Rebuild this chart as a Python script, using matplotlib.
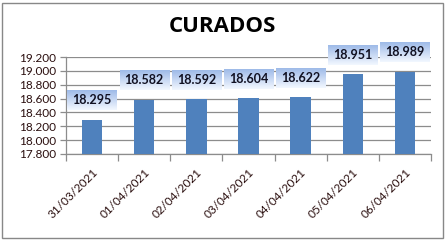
import matplotlib
matplotlib.use("Agg")
import matplotlib.pyplot as plt
import numpy as np
from matplotlib.patches import Rectangle

categories = ["31/03/2021", "01/04/2021", "02/04/2021", "03/04/2021",
              "04/04/2021", "05/04/2021", "06/04/2021"]
values = [18.295, 18.582, 18.592, 18.604, 18.622, 18.951, 18.989]
yticks = [17.8, 18.0, 18.2, 18.4, 18.6, 18.8, 19.0, 19.2]
title = "CURADOS"

def fmt(v):
    return f"{v:.3f}"

W, H = 447, 241
fig = plt.figure(figsize=(W / 100, H / 100), dpi=100)
fig.patch.set_facecolor("white")
# outer border
fig.add_artist(Rectangle((2 / W, 3 / H), 441 / W, 235 / H, transform=fig.transFigure,
                         fill=False, edgecolor="#888888", linewidth=1))

ax = fig.add_axes([66 / W, 1 - 154 / H, (431 - 66) / W, (154 - 57) / H])
x = np.arange(len(categories))
ax.bar(x, values, width=0.39, color="#4f81bd", zorder=3)
ax.set_ylim(17.8, 19.2)
ax.set_xlim(-0.5, len(categories) - 0.5)
ax.set_yticks(yticks)
ax.set_yticklabels([fmt(v) for v in yticks], fontsize=8.5, family="Lato", color="#2a0e0e")
ax.yaxis.grid(True, color="#8c8c8c", linewidth=0.9, zorder=0)
ax.set_xticks(np.arange(len(categories) + 1) - 0.5)
ax.set_xticklabels([])
ax.set_xticks(x, minor=True)
ax.set_xticklabels(categories, minor=True, rotation=45, ha="right", va="top",
                   rotation_mode="anchor", fontsize=8.5, family="Lato", color="#2a0e0e")
ax.tick_params(axis="x", which="minor", length=0, pad=9)
ax.tick_params(axis="x", which="major", length=5, color="#8c8c8c", width=0.9)
ax.tick_params(axis="y", length=4, color="#8c8c8c", width=0.9, pad=3)
for s in ["top", "right"]:
    ax.spines[s].set_visible(False)
for s in ["left", "bottom"]:
    ax.spines[s].set_color("#8c8c8c")
    ax.spines[s].set_linewidth(0.9)

# data labels with gradient boxes
fig.canvas.draw()
renderer = fig.canvas.get_renderer()
grad = np.linspace(0, 1, 50).reshape(-1, 1)
top_c = np.array([0.62, 0.73, 0.91])
bot_c = np.array([0.95, 0.97, 1.0])
for xi, v in zip(x, values):
    t = ax.annotate(fmt(v), (xi, v), xytext=(0, 14), textcoords="offset points",
                    ha="center", va="center", fontsize=9, fontweight="bold",
                    family="Lato", color="#111122", zorder=6, annotation_clip=False)
    bb = t.get_window_extent(renderer)
    x0, y0 = bb.x0 - 5, bb.y0 - 4
    x1, y1 = bb.x1 + 5, bb.y1 + 4
    img = np.zeros((50, 1, 3))
    for k in range(3):
        img[:, 0, k] = top_c[k] + (bot_c[k] - top_c[k]) * grad[:, 0]
    fx0, fy0 = x0 / W, y0 / H
    fx1, fy1 = x1 / W, y1 / H
    iax = fig.add_axes([fx0, fy0, fx1 - fx0, fy1 - fy0], zorder=5)
    iax.imshow(img, aspect="auto", extent=(0, 1, 0, 1))
    iax.axis("off")
    fig.text((bb.x0 + bb.x1) / 2 / W, (bb.y0 + bb.y1) / 2 / H, fmt(v), ha="center",
             va="center", fontsize=9, fontweight="bold", family="Lato",
             color="#111122", zorder=10)
    t.set_visible(False)

fig.text(222 / W, 1 - 26 / H, title, ha="center", va="center", fontsize=16,
         fontweight="bold", family="Open Sans", color="black")

fig.savefig("out.png", dpi=100)
